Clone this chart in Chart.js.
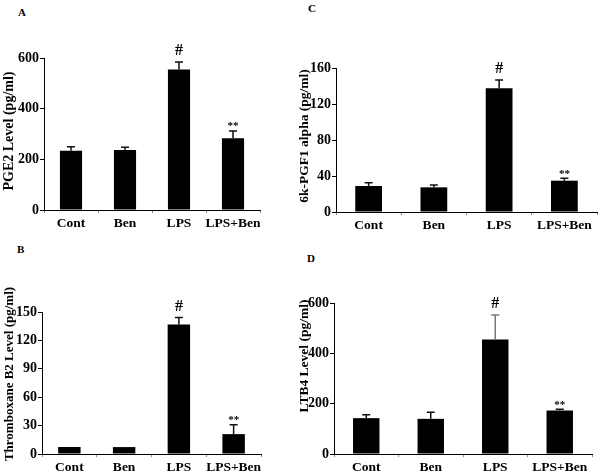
<!DOCTYPE html>
<html><head><meta charset="utf-8">
<script src="https://cdn.jsdelivr.net/npm/chart.js@4.4.1/dist/chart.umd.min.js"></script>
<style>
html,body{margin:0;padding:0;background:#fff;}
body{width:601px;height:476px;position:relative;overflow:hidden;font-family:"Liberation Serif","Times New Roman",serif;}
.p{position:absolute;}
.lbl{position:absolute;font-weight:bold;font-size:11px;line-height:11px;color:#000;}
</style></head><body>
<div class="lbl" style="left:18px;top:7px">A</div>
<div class="lbl" style="left:308px;top:3px">C</div>
<div class="lbl" style="left:17px;top:244px">B</div>
<div class="lbl" style="left:307px;top:253px">D</div>
<div class="p" style="left:0;top:0;width:300px;height:240px"><canvas id="cA"></canvas></div>
<div class="p" style="left:290px;top:0;width:311px;height:240px"><canvas id="cC"></canvas></div>
<div class="p" style="left:0;top:240px;width:300px;height:236px"><canvas id="cB"></canvas></div>
<div class="p" style="left:290px;top:240px;width:311px;height:236px"><canvas id="cD"></canvas></div>
<script>
// ---- data ----
const categories = ['Cont', 'Ben', 'LPS', 'LPS+Ben'];
const marks = ['', '', '#', '**'];

const pge2Values = [234, 237, 555, 283];
const pge2Errors = [16, 11, 29, 29];
const pge2Ticks = [0, 200, 400, 600];

const pgfValues = [28.9, 27.4, 137.4, 34.8];
const pgfErrors = [3.7, 2.6, 9.3, 2.6];
const pgfTicks = [0, 40, 80, 120, 160];

const txbValues = [7.4, 7.3, 136.7, 21];
const txbErrors = [0, 0, 7.4, 9.8];
const txbTicks = [0, 30, 60, 90, 120, 150];

const ltbValues = [142.5, 139.7, 455, 172.6];
const ltbErrors = [13, 26, 97.5, 5.4];
const ltbTicks = [0, 200, 400, 600];

const FONT = '"Liberation Serif","Times New Roman",serif';

const errorBarPlugin = {
  id: 'errorBars',
  afterDatasetsDraw(chart, args, opts) {
    const ctx = chart.ctx;
    const meta = chart.getDatasetMeta(0);
    const ys = chart.scales.y;
    const vals = chart.data.datasets[0].data;
    meta.data.forEach((el, i) => {
      const err = opts.errors[i];
      const top = ys.getPixelForValue(vals[i] + err);
      ctx.save();
      if (err > 0) {
        ctx.strokeStyle = (opts.colors && opts.colors[i]) || '#111';
        ctx.lineWidth = 1.5;
        ctx.beginPath();
        ctx.moveTo(el.x, el.y);
        ctx.lineTo(el.x, top);
        ctx.moveTo(el.x - 4, top);
        ctx.lineTo(el.x + 4, top);
        ctx.stroke();
      }
      const m = opts.marks[i];
      if (m) {
        ctx.fillStyle = '#000';
        ctx.textAlign = 'center';
        ctx.textBaseline = 'bottom';
        if (m === '#') {
          ctx.font = 'bold 16px ' + FONT;
          ctx.fillText(m, el.x, top - 3);
        } else {
          ctx.font = 'bold 11px ' + FONT;
          ctx.fillText(m, el.x, top + 1);
        }
      }
      ctx.restore();
    });
  }
};

const yTitlePlugin = {
  id: 'yTitle',
  afterDraw(chart, args, opts) {
    const ctx = chart.ctx;
    ctx.save();
    ctx.translate(opts.x, opts.y);
    ctx.rotate(-Math.PI / 2);
    ctx.font = 'bold ' + opts.size + 'px ' + FONT;
    ctx.fillStyle = '#000';
    ctx.textAlign = 'center';
    ctx.textBaseline = 'middle';
    ctx.fillText(opts.text, 0, 0);
    ctx.restore();
  }
};

function makePanel(id, box, area, values, errors, ticks, title, titlePos, colors) {
  const ctx = document.getElementById(id);
  const yW = area.l - box.x;
  const xH = (box.y + box.h) - area.b;
  return new Chart(ctx, {
    type: 'bar',
    data: {
      labels: categories,
      datasets: [{
        data: values,
        backgroundColor: '#000',
        borderWidth: 0,
        barPercentage: 0.41,
        categoryPercentage: 1.0
      }]
    },
    options: {
      responsive: true,
      maintainAspectRatio: false,
      animation: false,
      events: [],
      layout: { padding: { left: 0, top: area.t - box.y, right: (box.x + box.w) - area.r, bottom: 0 } },
      plugins: {
        legend: { display: false },
        tooltip: { enabled: false },
        errorBars: { errors: errors, marks: marks, colors: colors },
        yTitle: { text: title, x: titlePos.x - box.x, y: titlePos.y - box.y, size: titlePos.size }
      },
      scales: {
        x: {
          offset: true,
          grid: { offset: true, drawOnChartArea: false, drawTicks: true, tickLength: 3, color: '#888' },
          border: { display: true, color: '#000', width: 1 },
          ticks: { color: '#000', font: { family: FONT, size: 13.5, weight: 'bold' }, padding: 2, maxRotation: 0, autoSkip: false },
          afterFit(s) { s.height = xH; }
        },
        y: {
          min: ticks[0],
          max: ticks[ticks.length - 1],
          afterBuildTicks(s) { s.ticks = ticks.map(v => ({ value: v })); },
          grid: { drawOnChartArea: false, drawTicks: true, tickLength: 4, color: '#000' },
          border: { display: true, color: '#000', width: 1 },
          ticks: { color: '#000', font: { family: FONT, size: 14, weight: 'bold' }, padding: 1 },
          afterFit(s) { s.width = yW; }
        }
      }
    },
    plugins: [errorBarPlugin, yTitlePlugin]
  });
}

makePanel('cA', { x: 0, y: 0, w: 300, h: 240 }, { l: 44, t: 58, r: 260, b: 210 },
  pge2Values, pge2Errors, pge2Ticks, 'PGE2 Level (pg/ml)', { x: 9, y: 131, size: 14 });
makePanel('cC', { x: 290, y: 0, w: 311, h: 240 }, { l: 336, t: 68, r: 597, b: 212 },
  pgfValues, pgfErrors, pgfTicks, '6k-PGF1 alpha (pg/ml)', { x: 305, y: 136, size: 13.5 });
makePanel('cB', { x: 0, y: 240, w: 300, h: 236 }, { l: 42, t: 312, r: 261, b: 454 },
  txbValues, txbErrors, txbTicks, 'Thromboxane B2 Level (pg/ml)', { x: 10, y: 374, size: 13 });
makePanel('cD', { x: 290, y: 240, w: 311, h: 236 }, { l: 334, t: 303, r: 592, b: 454 },
  ltbValues, ltbErrors, ltbTicks, 'LTB4 Level (pg/ml)', { x: 305, y: 356, size: 13.5 },
  ['#111', '#111', '#777', '#111']);
</script>
</body></html>
